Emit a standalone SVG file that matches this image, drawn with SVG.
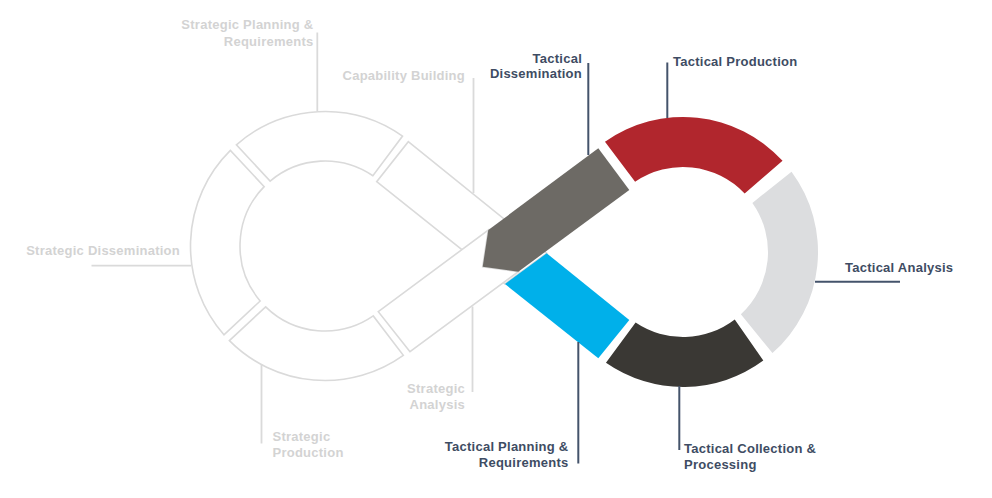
<svg xmlns="http://www.w3.org/2000/svg" width="992" height="498" viewBox="0 0 992 498">
  <style>
    .ol { fill: #ffffff; stroke: #dadada; stroke-width: 1.6; stroke-linejoin: miter; }
    .lbl { font-family: "Liberation Sans", Arial, sans-serif; font-weight: bold; font-size: 13px; letter-spacing: 0.25px; }
    .faded { fill: #d3d3d3; }
    .tac { fill: #3e4c63; }
    .lf { stroke: #dadada; stroke-width: 1.8; fill: none; }
    .lt { stroke: #44536b; stroke-width: 2; fill: none; }
  </style>
  <rect width="992" height="498" fill="#ffffff"/>

  <!-- Strategic (outlined) loop -->
  <g id="strategic-planning">
    <path class="ol" d="M 236.40,144.80 A 134.5 134.5 0 0 1 402.53,136.10 L 372.90,175.78 A 85 85 0 0 0 270.13,181.08 Z"/>
    <text class="lbl faded" x="313.5" y="28.5" text-anchor="end">Strategic Planning &amp;</text>
    <text class="lbl faded" x="313.5" y="45.5" text-anchor="end">Requirements</text>
  </g>
  <g id="strategic-dissemination">
    <path class="ol" d="M 223.95,334.77 A 134.5 134.5 0 0 1 230.39,150.40 L 264.17,186.64 A 85 85 0 0 0 260.17,300.98 Z"/>
    <text class="lbl faded" x="180" y="255" text-anchor="end">Strategic Dissemination</text>
  </g>
  <g id="strategic-production">
    <path class="ol" d="M 403.29,355.36 A 134.5 134.5 0 0 1 229.40,340.61 L 265.64,306.83 A 85 85 0 0 0 373.26,315.96 Z"/>
    <text class="lbl faded" x="272.5" y="440.5">Strategic</text>
    <text class="lbl faded" x="272.5" y="456.5">Production</text>
  </g>
  <g id="capability-building">
    <polygon class="ol" points="408.3,141.7 546.7,253.3 505,284 376.7,181.7"/>
    <text class="lbl faded" x="465" y="80" text-anchor="end">Capability Building</text>
  </g>
  <g id="strategic-analysis">
    <polygon class="ol" points="410,351.7 378.3,311.7 488.3,230 482.7,266.7 518.3,271.7"/>
    <text class="lbl faded" x="465" y="393" text-anchor="end">Strategic</text>
    <text class="lbl faded" x="465" y="408.5" text-anchor="end">Analysis</text>
  </g>

  <!-- Tactical (filled) loop -->
  <g id="tactical-planning">
    <polygon fill="#00b0ea" points="505,284 546.7,253.3 629.3,320 598.3,358.3"/>
    <text class="lbl tac" x="568.5" y="450.5" text-anchor="end">Tactical Planning &amp;</text>
    <text class="lbl tac" x="568.5" y="466.5" text-anchor="end">Requirements</text>
  </g>
  <g id="tactical-dissemination">
    <polygon fill="#6d6a65" points="598.3,148.3 629.3,190 518.3,271.7 482.7,266.7 488.3,230"/>
    <text class="lbl tac" x="582" y="63" text-anchor="end">Tactical</text>
    <text class="lbl tac" x="582" y="78" text-anchor="end">Dissemination</text>
  </g>
  <g id="tactical-production">
    <path fill="#b1262d" d="M 604.98,141.83 A 135 135 0 0 1 782.53,160.79 L 744.66,193.49 A 85 85 0 0 0 635.10,181.78 Z"/>
    <text class="lbl tac" x="673" y="65.5">Tactical Production</text>
  </g>
  <g id="tactical-analysis">
    <path fill="#dcdddf" d="M 791.53,171.70 A 135 135 0 0 1 772.45,353.12 L 740.86,314.26 A 85 85 0 0 0 752.37,202.88 Z"/>
    <text class="lbl tac" x="845" y="271.5">Tactical Analysis</text>
  </g>
  <g id="tactical-collection">
    <path fill="#3a3834" d="M 763.30,360.53 A 135 135 0 0 1 605.96,362.85 L 635.60,322.55 A 85 85 0 0 0 734.75,319.44 Z"/>
    <text class="lbl tac" x="684" y="453">Tactical Collection &amp;</text>
    <text class="lbl tac" x="684" y="468.5">Processing</text>
  </g>

  <!-- Leader lines -->
  <g id="connectors">
    <line class="lf" x1="317.3" y1="32.5" x2="317.3" y2="111"/>
    <line class="lf" x1="473.5" y1="78" x2="473.5" y2="193"/>
    <line class="lf" x1="91.5" y1="265.7" x2="191" y2="265.7"/>
    <line class="lf" x1="261.5" y1="364" x2="261.5" y2="443.5"/>
    <line class="lf" x1="472.5" y1="306.5" x2="472.5" y2="392"/>
    <line class="lt" x1="588.3" y1="63" x2="588.3" y2="155"/>
    <line class="lt" x1="667.3" y1="62.5" x2="667.3" y2="118"/>
    <line class="lt" x1="815" y1="281.7" x2="900" y2="281.7"/>
    <line class="lt" x1="679.3" y1="386" x2="679.3" y2="450"/>
    <line class="lt" x1="578.3" y1="342" x2="578.3" y2="463.5"/>
  </g>
</svg>
